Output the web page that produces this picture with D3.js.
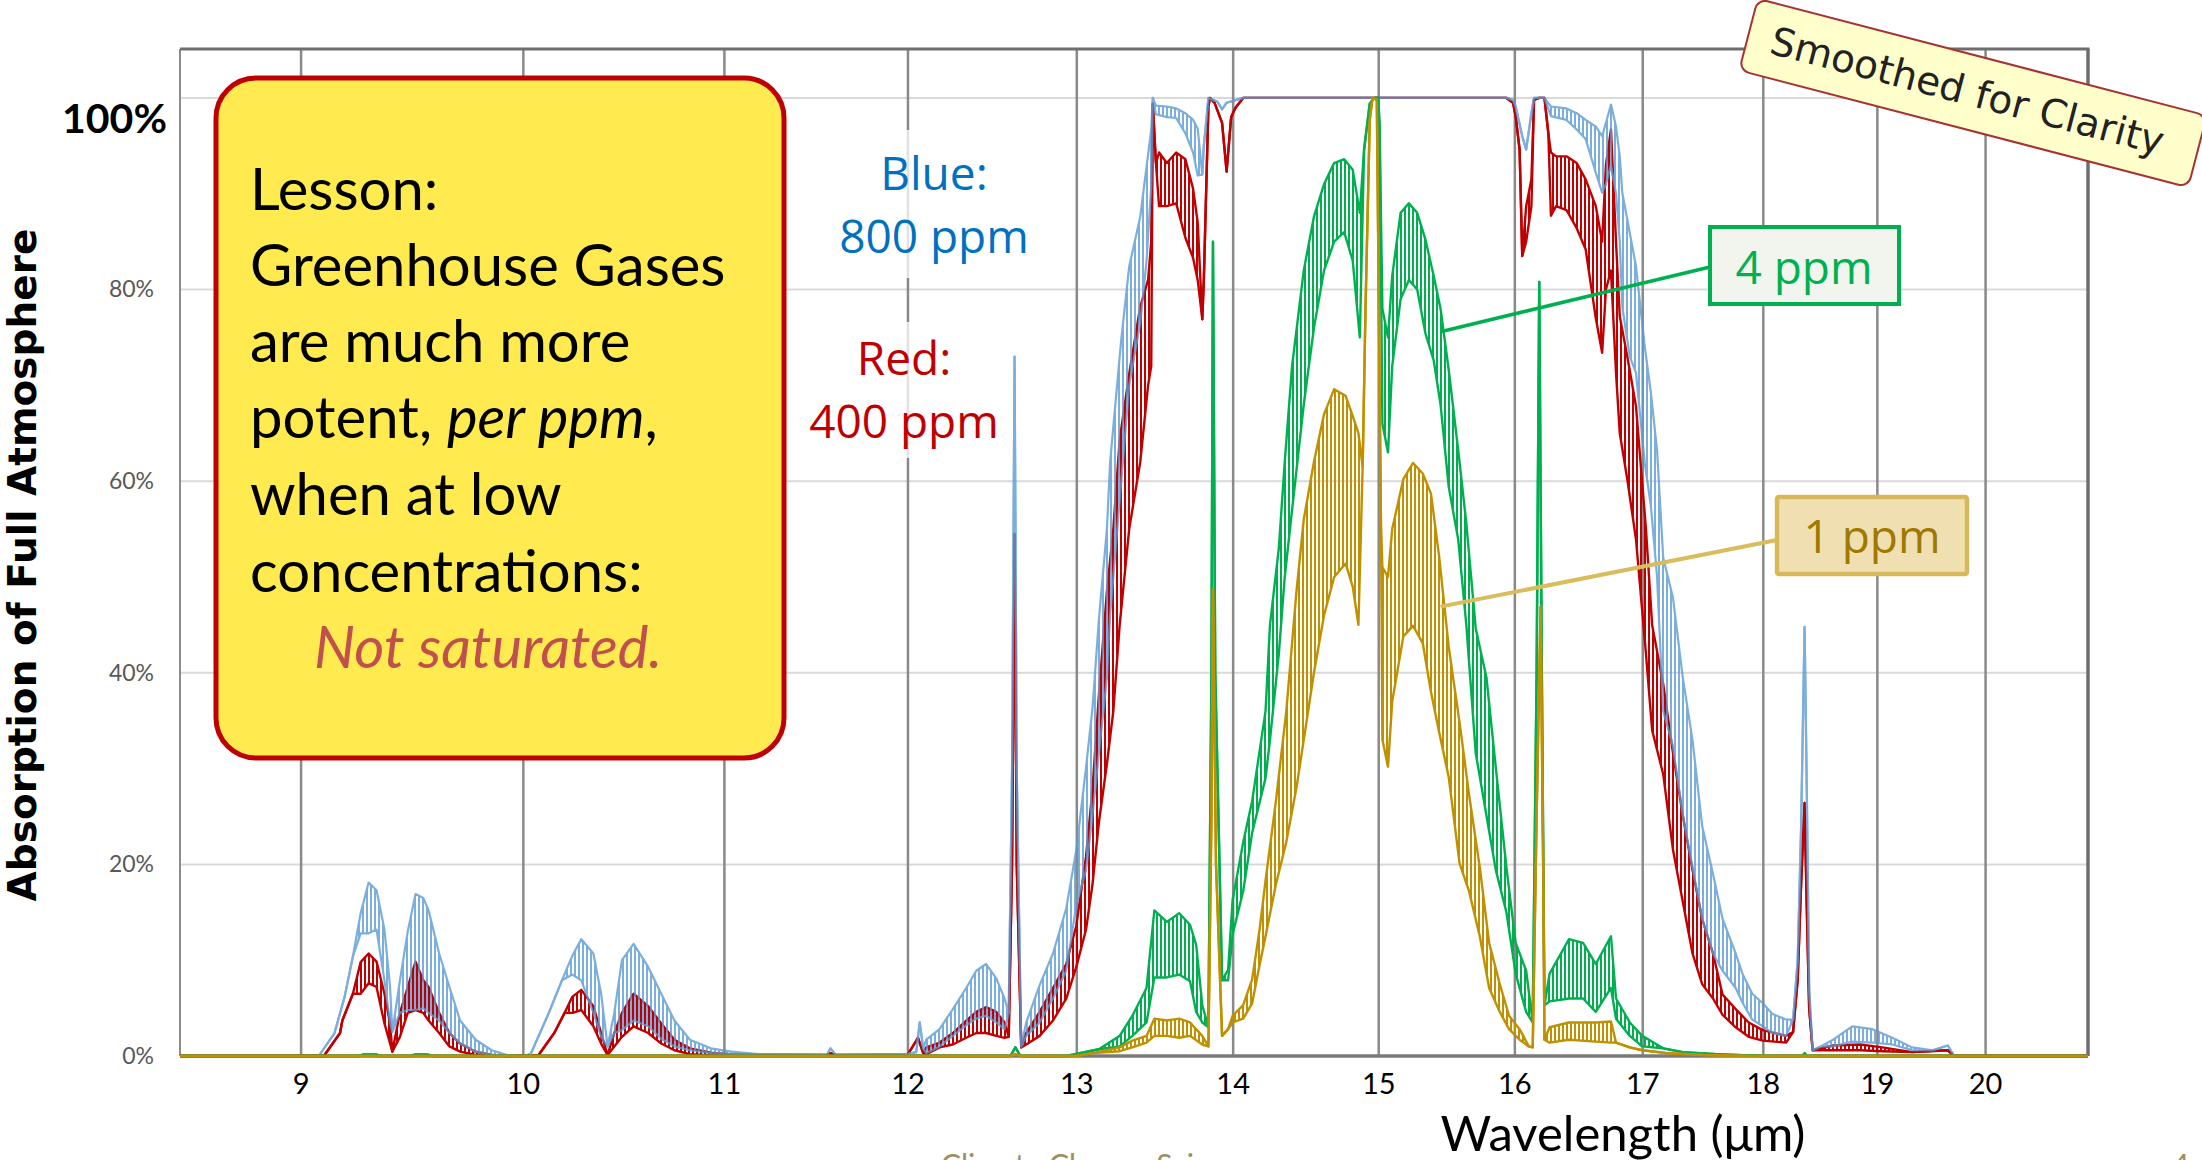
<!DOCTYPE html>
<html>
<head>
<meta charset="utf-8">
<script src="https://cdn.jsdelivr.net/npm/d3@7"></script>
<style>
  body { margin: 0; background: #fff; overflow: hidden; }
  svg { display: block; }
</style>
</head>
<body>
<div class="canvas"></div>
<script>
// ---- data: [wavelength µm, upper %, lower %]; lower left out where the trace is smooth ----
const red400 = [
  [8.5, 0], [9.10, 0], [9.17, 2.4], [9.18, 3.7], [9.226, 6.5], [9.26, 9.8, 6.5], [9.295, 10.7, 7.6],
  [9.33, 9.85, 7.2], [9.365, 6.5, 3.4], [9.39, 3.4, 1.3], [9.40, 0.45], [9.434, 4.5, 2.0], [9.469, 7.2, 4.5],
  [9.504, 9.85, 4.8], [9.539, 7.9, 4.5], [9.563, 7.2, 3.7], [9.611, 4.5, 2.4], [9.658, 2.4, 1.0],
  [9.707, 1.3, 0.45], [9.779, 0.45, 0.1], [9.853, 0.1], [9.926, 0], [10.075, 0.1], [10.15, 2.4], [10.20, 4.5],
  [10.238, 6.2, 4.5], [10.281, 6.9, 4.8], [10.34, 5.2, 3.1], [10.378, 2.4, 1.3], [10.41, 0.1],
  [10.443, 2.4, 1.0], [10.481, 4.5, 2.0], [10.539, 6.5, 3.1], [10.612, 5.2, 2.4], [10.678, 3.4, 1.3],
  [10.745, 1.7, 0.6], [10.824, 0.8, 0.2], [10.932, 0.35, 0.07], [11.04, 0.15], [11.2, 0.1], [11.55, 0.1],
  [11.57, 0.3], [11.6, 0.1], [12.0, 0.1], [12.06, 1.9], [12.09, 0.3], [12.108, 0.9, 0.2], [12.184, 1.4, 0.9],
  [12.261, 2.4, 1.2], [12.339, 3.7, 1.9], [12.398, 4.6, 2.4], [12.456, 5.1, 2.4], [12.516, 4.6, 2.1],
  [12.565, 3.5, 1.9], [12.59, 2.0], [12.61, 20], [12.625, 54.5], [12.638, 20], [12.665, 0.9],
  [12.695, 2.4, 1.2], [12.776, 4.6, 2.1], [12.857, 7.1, 3.7], [12.938, 9.6, 6.0], [13.0, 13.6, 9.3],
  [13.06, 20.8, 13.2], [13.10, 27.8, 17.9], [13.14, 37.7, 24.4], [13.19, 48.5, 30.5], [13.23, 55, 36],
  [13.27, 64.3, 45], [13.33, 71.2, 55], [13.40, 78.2, 62], [13.45, 81, 70], [13.47, 85, 72], [13.48, 99.4],
  [13.50, 93.2], [13.52, 94.3, 88.7], [13.57, 93.2, 88.7], [13.63, 94.3, 89], [13.69, 93.6, 85.4],
  [13.74, 90.5, 83.3], [13.77, 87, 81], [13.80, 76.9], [13.81, 81], [13.84, 99.1], [13.85, 100],
  [13.88, 99.5], [13.93, 97.4], [13.96, 92.3], [13.99, 98], [14.02, 99], [14.07, 100], [15.94, 100],
  [15.99, 99.5], [16.01, 98.1], [16.04, 94.6], [16.06, 83.5], [16.09, 88.7, 85], [16.13, 91.5, 88.7],
  [16.15, 99.8], [16.19, 100], [16.23, 100], [16.26, 96.3], [16.28, 94.3, 87.7], [16.32, 93.9, 88.7],
  [16.40, 93.9, 88.3], [16.48, 93.2, 86.4], [16.55, 91.5, 84.2], [16.63, 88.7, 77], [16.68, 85, 73.4],
  [16.71, 93, 80], [16.75, 96.7, 82], [16.79, 85, 71.3], [16.82, 77.2, 65], [16.88, 73.0, 60.2],
  [16.95, 67.8, 53.9], [17.03, 55, 42], [17.08, 45, 34], [17.17, 38.8, 29.4], [17.25, 31.6, 21.5],
  [17.33, 25.1, 16.1], [17.41, 19.4, 10.7], [17.49, 14.3, 7.5], [17.58, 10.7, 6.0], [17.66, 6.4, 4.3],
  [17.77, 4.9, 3.0], [17.88, 3.5, 2.0], [18.0, 2.7, 1.6], [18.20, 2.1, 1.4], [18.26, 2.5], [18.30, 8],
  [18.33, 18], [18.36, 26.4], [18.38, 15], [18.40, 5], [18.43, 0.6], [18.61, 1.1, 0.6], [18.85, 1.2, 0.6],
  [19.05, 0.9, 0.5], [19.32, 0.4], [19.65, 0.6], [19.71, 0], [21, 0]
];

const blue800 = [
  [8.5, 0], [9.078, 0], [9.146, 2.4], [9.19, 6.2], [9.226, 10.4], [9.26, 14.9, 12.8], [9.295, 18.1, 12.8],
  [9.33, 17.3, 13.2], [9.365, 13.2, 7.9], [9.39, 7.2, 3.5], [9.40, 2.5], [9.434, 7.9, 4.5], [9.469, 13, 4.8],
  [9.504, 16.9, 4.8], [9.539, 16.5, 5.0], [9.563, 15.2, 4.5], [9.611, 10.7, 3.7], [9.658, 7.2, 2.4],
  [9.707, 3.7, 1.3], [9.779, 1.7, 0.45], [9.853, 0.6, 0.1], [9.926, 0.1], [10.0, 0], [10.037, 0.2],
  [10.124, 4.5], [10.187, 7.9], [10.238, 10.5, 8.5], [10.281, 12.2, 7.9], [10.34, 10.7, 4.5],
  [10.378, 6.5, 2.0], [10.41, 1.0], [10.443, 4.5, 2.4], [10.481, 10.0, 2.7], [10.539, 11.7, 3.7],
  [10.612, 9.3, 3.1], [10.678, 6.5, 1.8], [10.745, 3.7, 1.0], [10.824, 1.7, 0.6], [10.932, 0.8, 0.3],
  [11.04, 0.45, 0.2], [11.18, 0.2], [11.55, 0.1], [11.57, 0.8], [11.6, 0.1], [12.0, 0.2], [12.05, 0.4],
  [12.07, 3.5], [12.09, 0.8], [12.108, 1.7, 0.3], [12.184, 2.8, 1.0], [12.261, 4.9, 2.1], [12.339, 7.1, 3.2],
  [12.398, 8.9, 3.9], [12.456, 9.6, 4.2], [12.516, 8.1, 3.5], [12.565, 6.0, 2.8], [12.59, 4.5], [12.61, 30],
  [12.625, 73], [12.638, 30], [12.665, 1.0], [12.695, 3.5, 2.1], [12.776, 7.4, 3.5], [12.857, 10.7, 6.0],
  [12.938, 15.4, 8.9], [13.0, 21.5, 15.8], [13.06, 30.1, 19.4], [13.10, 36.3, 25.1], [13.14, 45.6, 31.6],
  [13.19, 55, 39.5], [13.21, 62, 46], [13.28, 74.8, 60], [13.33, 82.4, 70], [13.40, 87.6, 76.5],
  [13.44, 92.8, 83], [13.47, 96.7, 90.8], [13.48, 100], [13.50, 99.2, 98.3], [13.57, 99.1, 98.0],
  [13.63, 98.9, 97.9], [13.69, 98.4, 96.3], [13.74, 97.7, 94.3], [13.77, 96.8, 91.9], [13.80, 92],
  [13.81, 95], [13.84, 100], [13.90, 99.6], [13.93, 98.8], [13.96, 99.5], [14.07, 100], [15.94, 100],
  [15.99, 99.8], [16.01, 99.1], [16.06, 96.0], [16.09, 94.6], [16.13, 98.4], [16.15, 100], [16.23, 100],
  [16.28, 99.1, 98.1], [16.40, 98.9, 97.7], [16.48, 98.4, 96.7], [16.55, 97.7, 95.7], [16.63, 97.0, 92.2],
  [16.68, 96.0, 90.1], [16.71, 97.4, 91], [16.75, 99.3, 93], [16.79, 97, 90], [16.82, 93.9, 85],
  [16.84, 90.1, 78.2], [16.90, 85.9, 73.0], [16.95, 82.4, 71.3], [17.02, 74.1, 61.9], [17.07, 69.2, 57.4],
  [17.12, 63.2, 50], [17.17, 52, 36], [17.25, 47.8, 32.3], [17.33, 39.5, 25.1], [17.41, 33.0, 19.7],
  [17.49, 24.0, 14.3], [17.58, 19.0, 10.7], [17.66, 14.3, 8.9], [17.77, 10.7, 7.1], [17.83, 8.5, 5.5],
  [17.91, 6.5, 3.8], [18.0, 5.5, 3.1], [18.08, 4.4, 2.4], [18.20, 3.8, 2.1], [18.26, 3.8], [18.30, 10],
  [18.33, 24.1], [18.36, 44.8], [18.38, 27], [18.40, 7], [18.43, 0.6], [18.50, 1.0], [18.61, 1.7, 1.0],
  [18.78, 3.1, 1.5], [18.96, 2.8, 1.4], [19.14, 1.9, 1.2], [19.32, 0.9, 0.6], [19.51, 0.6], [19.65, 1.1],
  [19.71, 0], [21, 0]
];

const green4 = [
  [8.5, 0], [9.25, 0], [9.27, 0.15], [9.33, 0.15], [9.35, 0], [9.48, 0], [9.50, 0.15], [9.56, 0.15],
  [9.58, 0], [12.60, 0], [12.63, 0.9], [12.66, 0], [12.94, 0], [13.14, 0.7], [13.27, 2.1, 1.0],
  [13.35, 4.2, 2.1], [13.44, 7.1, 3.5], [13.49, 15.2, 8.2], [13.57, 14.0, 8.2], [13.65, 14.9, 8.5],
  [13.72, 13.7, 7.8], [13.76, 11.6, 4.6], [13.80, 5.3, 3.5], [13.84, 3.0], [13.86, 40], [13.87, 85],
  [13.885, 40], [13.93, 7.9], [13.97, 9.0, 7.9], [14.0, 16.3, 12.7], [14.07, 22.3, 17.2], [14.13, 26.6, 23.3],
  [14.22, 36, 29], [14.25, 45, 33], [14.31, 53, 42], [14.35, 62, 50], [14.40, 72, 57], [14.48, 82, 68],
  [14.55, 87.6, 76], [14.62, 91, 82], [14.69, 93.2, 85], [14.76, 93.6, 86], [14.82, 92.5, 83],
  [14.87, 88, 75], [14.90, 94.6], [14.94, 99.4], [14.97, 100], [15.00, 100], [15.01, 97], [15.03, 78, 66],
  [15.07, 75, 63], [15.10, 81.4, 72], [15.16, 88, 79], [15.22, 89, 81], [15.28, 88, 80], [15.34, 85.2, 75.4],
  [15.40, 81.4, 72.6], [15.45, 78, 68], [15.51, 71.6, 59.4], [15.58, 63.2, 53.9], [15.64, 55.6, 45],
  [15.71, 44.6, 31.6], [15.79, 39.5, 25.1], [15.86, 30.1, 19.4], [15.94, 19.7, 15.0], [16.01, 11.8, 8.6],
  [16.09, 8.9, 4.6], [16.14, 3.5], [16.17, 40], [16.19, 80.8], [16.21, 40], [16.23, 5.3], [16.27, 8.6, 5.7],
  [16.42, 12.2, 6.0], [16.53, 11.8, 6.0], [16.63, 9.6, 4.6], [16.75, 12.5, 7.1], [16.79, 6.0, 3.9],
  [16.90, 3.5, 2.1], [17.0, 2.1, 1.0], [17.17, 0.8], [17.33, 0.4], [17.61, 0.2], [18.0, 0], [18.34, 0],
  [18.36, 0.3], [18.38, 0], [21, 0]
];

const gold1 = [
  [8.5, 0], [12.60, 0], [12.63, 0.2], [12.66, 0], [13.0, 0], [13.10, 0.3], [13.27, 0.9, 0.5],
  [13.35, 1.6, 0.9], [13.44, 2.1, 1.4], [13.49, 3.9, 2.1], [13.57, 3.7, 2.1], [13.65, 3.9, 1.9],
  [13.72, 3.5, 2.1], [13.80, 2.1, 1.2], [13.84, 1.0], [13.86, 25], [13.87, 48.8], [13.89, 20], [13.93, 2.1],
  [13.97, 2.8], [14.0, 4.2, 3.5], [14.07, 5.3, 3.9], [14.13, 8.0, 5.5], [14.18, 13.2, 9.5], [14.22, 18.3, 12.5],
  [14.29, 26.6, 17.9], [14.36, 35.9, 22.3], [14.43, 48.5, 28.0], [14.48, 56, 33], [14.55, 62, 40],
  [14.62, 67, 46], [14.69, 69.6, 50], [14.77, 68.9, 51.4], [14.82, 66.8, 49], [14.86, 65, 45], [14.89, 61.5],
  [14.91, 78], [14.94, 97.7], [14.96, 100], [14.99, 99.8], [15.00, 85], [15.02, 55], [15.03, 51, 33],
  [15.07, 50, 30.2], [15.10, 55, 37], [15.18, 60.2, 43.8], [15.25, 61.9, 44.9], [15.32, 60.8, 43.1],
  [15.38, 58.7, 38], [15.44, 52.1, 33.8], [15.51, 42.7, 29.1], [15.59, 34.8, 20.1], [15.66, 27.3, 17.2],
  [15.74, 19.7, 12.5], [15.81, 11.8, 7.1], [15.89, 7.5, 4.6], [15.96, 4.2, 2.8], [16.04, 2.8, 1.7],
  [16.11, 1.0], [16.14, 0.9], [16.17, 25], [16.20, 46.9], [16.22, 20], [16.23, 1.7], [16.27, 3.0, 1.4],
  [16.42, 3.5, 1.7], [16.63, 3.5, 1.5], [16.75, 3.6, 1.4], [16.79, 1.4], [16.90, 0.9], [17.0, 0.6],
  [17.2, 0.3], [17.5, 0.1], [17.88, 0], [21, 0]
];

const xTicks = [9, 10, 11, 12, 13, 14, 15, 16, 17, 18, 19, 20];
const yTicks = [0, 20, 40, 60, 80];
const yGrid = [20, 40, 60, 80, 100];

const lessonLines = ['Lesson:', 'Greenhouse Gases', 'are much more', null, 'when at low', 'concentrations:'];

// ---- svg + scales ----
const svg = d3.select('.canvas')
  .append('svg')
  .attr('width', 2202)
  .attr('height', 1160);

const plotLeft = 180, plotRight = 2088, plotTop = 50, plotBottom = 1056;

const x = d3.scaleLog().domain([8.5, 21]).range([plotLeft, plotRight]);
const y = d3.scaleLinear().domain([0, 105]).range([plotBottom, plotTop]);

const defs = svg.append('defs');
defs.append('clipPath').attr('id', 'plot-clip')
  .append('rect')
  .attr('x', plotLeft).attr('y', plotTop - 2)
  .attr('width', plotRight - plotLeft).attr('height', plotBottom - plotTop + 5);

// ---- grid ----
svg.append('g')
  .selectAll('line')
  .data(yGrid)
  .join('line')
  .attr('x1', plotLeft).attr('x2', plotRight)
  .attr('y1', d => y(d)).attr('y2', d => y(d))
  .attr('stroke', '#d9d9d9')
  .attr('stroke-width', 2);

const xGrid = svg.append('g')
  .attr('transform', `translate(0, ${plotBottom})`)
  .call(d3.axisBottom(x).tickValues(xTicks).tickSize(-(plotBottom - plotTop)).tickFormat(''));
xGrid.select('.domain').remove();
xGrid.selectAll('line').attr('stroke', '#8a8a8a').attr('stroke-width', 2.5);

// frame
svg.append('line').attr('x1', plotLeft).attr('x2', plotLeft).attr('y1', plotTop - 1).attr('y2', plotBottom)
  .attr('stroke', '#8c8c8c').attr('stroke-width', 2);
svg.append('line').attr('x1', plotLeft).attr('x2', plotRight + 1.5).attr('y1', plotTop - 1).attr('y2', plotTop - 1)
  .attr('stroke', '#6e6e6e').attr('stroke-width', 3);
svg.append('line').attr('x1', plotRight).attr('x2', plotRight).attr('y1', plotTop - 1).attr('y2', plotBottom)
  .attr('stroke', '#6e6e6e').attr('stroke-width', 3.5);

// label backgrounds (they dim the grid line behind the ppm notes)
svg.append('rect').attr('x', 840).attr('y', 130).attr('width', 190).attr('height', 148)
  .attr('fill', '#fff').attr('opacity', 0.75);
svg.append('rect').attr('x', 808).attr('y', 322).attr('width', 194).attr('height', 136)
  .attr('fill', '#fff').attr('opacity', 0.75);

// ---- series ----
const series = [
  { key: 'red', rows: red400, color: '#c00000', width: 2.4, opacity: 1, offset: 0 },
  { key: 'blue', rows: blue800, color: '#5b9bd5', width: 2.2, opacity: 0.8, offset: 2 },
  { key: 'green', rows: green4, color: '#00b050', width: 2.4, opacity: 1, offset: 0 },
  { key: 'gold', rows: gold1, color: '#bf9000', width: 2.4, opacity: 1, offset: 2 }
];

// dense rotational lines are drawn as a hatched band between the two envelopes
series.forEach(s => {
  const p = defs.append('pattern')
    .attr('id', `hatch-${s.key}`)
    .attr('patternUnits', 'userSpaceOnUse')
    .attr('width', 4).attr('height', 8);
  p.append('rect')
    .attr('x', s.offset).attr('y', 0)
    .attr('width', 2).attr('height', 8)
    .attr('fill', s.color);
});

const lowOf = d => d.length > 2 ? d[2] : d[1];
const band = d3.area().x(d => x(d[0])).y0(d => y(lowOf(d))).y1(d => y(d[1]));
const upperLine = d3.line().x(d => x(d[0])).y(d => y(d[1]));
const lowerLine = d3.line().x(d => x(d[0])).y(d => y(lowOf(d)));

const plot = svg.append('g').attr('clip-path', 'url(#plot-clip)');

// bottom axis line sits under the traces
plot.append('line').attr('x1', plotLeft).attr('x2', plotRight).attr('y1', plotBottom).attr('y2', plotBottom)
  .attr('stroke', '#7a7a7a').attr('stroke-width', 3.5);

series.forEach(s => {
  const g = plot.append('g').attr('opacity', s.opacity);
  g.append('path')
    .attr('d', band(s.rows))
    .attr('fill', `url(#hatch-${s.key})`);
  [upperLine, lowerLine].forEach(gen => {
    g.append('path')
      .attr('d', gen(s.rows))
      .attr('fill', 'none')
      .attr('stroke', s.color)
      .attr('stroke-width', s.width)
      .attr('stroke-linejoin', 'round');
  });
});

// ---- axes text ----
const xAxisGroup = svg.append('g')
  .attr('transform', `translate(0, ${plotBottom})`)
  .call(d3.axisBottom(x).tickValues(xTicks).tickSize(0).tickFormat(d3.format('d')));
xAxisGroup.select('.domain').remove();
xAxisGroup.selectAll('text')
  .attr('y', 38).attr('dy', null)
  .attr('font-family', 'Lato, sans-serif')
  .attr('font-size', 29)
  .attr('fill', '#000');

const yAxisGroup = svg.append('g')
  .attr('transform', `translate(${plotLeft}, 0)`)
  .call(d3.axisLeft(y).tickValues(yTicks).tickSize(0).tickPadding(26).tickFormat(d => d + '%'));
yAxisGroup.select('.domain').remove();
yAxisGroup.selectAll('text')
  .attr('font-family', 'Lato, sans-serif')
  .attr('font-size', 23)
  .attr('fill', '#595959');

svg.append('text')
  .attr('x', 167).attr('y', 133)
  .attr('text-anchor', 'end')
  .attr('font-family', 'Lato, sans-serif')
  .attr('font-weight', 'bold')
  .attr('font-size', 41)
  .text('100%');

svg.append('text')
  .attr('transform', 'translate(36, 565) rotate(-90)')
  .attr('text-anchor', 'middle')
  .attr('font-family', '"DejaVu Sans", sans-serif')
  .attr('font-weight', 'bold')
  .attr('font-size', 39)
  .text('Absorption of Full Atmosphere');

svg.append('text')
  .attr('x', 1623).attr('y', 1151)
  .attr('text-anchor', 'middle')
  .attr('font-family', 'Lato, sans-serif')
  .attr('font-size', 49)
  .text('Wavelength (μm)');

// footer of the slide, cut off by the frame as in the original
svg.append('text')
  .attr('x', 941).attr('y', 1176)
  .attr('font-family', 'Lato, sans-serif')
  .attr('font-size', 30)
  .attr('fill', '#9a9060')
  .text('Climate Change Science');
svg.append('text')
  .attr('x', 2172).attr('y', 1176)
  .attr('font-family', 'Lato, sans-serif')
  .attr('font-size', 30)
  .attr('fill', '#9a9060')
  .text('4');

// ---- lesson box ----
svg.append('rect')
  .attr('x', 216).attr('y', 78)
  .attr('width', 568).attr('height', 680)
  .attr('rx', 40)
  .attr('fill', '#ffeb50')
  .attr('stroke', '#c00000')
  .attr('stroke-width', 5);

const lesson = svg.append('text')
  .attr('font-family', 'Lato, sans-serif')
  .attr('font-size', 58)
  .attr('fill', '#000');
const baselines = [210, 286, 362, 438, 515, 592];
lessonLines.forEach((line, i) => {
  const t = lesson.append('tspan').attr('x', 250).attr('y', baselines[i]);
  if (line) {
    t.text(line);
  } else {
    t.text('potent, ');
    lesson.append('tspan').attr('font-style', 'italic').text('per ppm');
    lesson.append('tspan').text(',');
  }
});
svg.append('text')
  .attr('x', 314).attr('y', 668)
  .attr('font-family', 'Lato, sans-serif')
  .attr('font-size', 58)
  .attr('font-style', 'italic')
  .attr('fill', '#c0504d')
  .text('Not saturated.');

// ---- ppm notes ----
const note = (lines, cx, ys, color, size) => {
  lines.forEach((l, i) => {
    svg.append('text')
      .attr('x', cx).attr('y', ys[i])
      .attr('text-anchor', 'middle')
      .attr('font-family', '"Open Sans", sans-serif')
      .attr('font-size', size)
      .attr('fill', color)
      .text(l);
  });
};
note(['Blue:', '800 ppm'], 934, [190, 253], '#0070c0', 46);
note(['Red:', '400 ppm'], 904, [375, 438], '#c00000', 46);

// leader lines from the traces to the boxed labels
svg.append('line')
  .attr('x1', x(15.45)).attr('y1', y(75.6))
  .attr('x2', 1710).attr('y2', 267)
  .attr('stroke', '#00b050').attr('stroke-width', 3.5);
svg.append('line')
  .attr('x1', x(15.45)).attr('y1', y(46.9))
  .attr('x2', 1777).attr('y2', 540)
  .attr('stroke', '#d9bc5c').attr('stroke-width', 4);

svg.append('rect')
  .attr('x', 1710).attr('y', 227).attr('width', 189).attr('height', 77)
  .attr('fill', '#f2f5ee').attr('stroke', '#00b050').attr('stroke-width', 4);
note(['4 ppm'], 1804, [284], '#00b050', 46);

svg.append('rect')
  .attr('x', 1777).attr('y', 497).attr('width', 190).attr('height', 77)
  .attr('rx', 2)
  .attr('fill', '#f0dfb0').attr('stroke', '#d8b95a').attr('stroke-width', 4.5);
note(['1 ppm'], 1872, [553], '#a07800', 46);

// ---- "Smoothed for Clarity" tag ----
const tag = svg.append('g').attr('transform', 'translate(1973, 93) rotate(14.6)');
tag.append('rect')
  .attr('x', -232).attr('y', -37)
  .attr('width', 464).attr('height', 74)
  .attr('rx', 10)
  .attr('fill', '#ffffcc')
  .attr('stroke', '#a83232')
  .attr('stroke-width', 2);
tag.append('text')
  .attr('x', -6).attr('y', 13)
  .attr('text-anchor', 'middle')
  .attr('font-family', '"DejaVu Sans", sans-serif')
  .attr('font-size', 39)
  .attr('fill', '#222')
  .text('Smoothed for Clarity');
</script>
</body>
</html>
